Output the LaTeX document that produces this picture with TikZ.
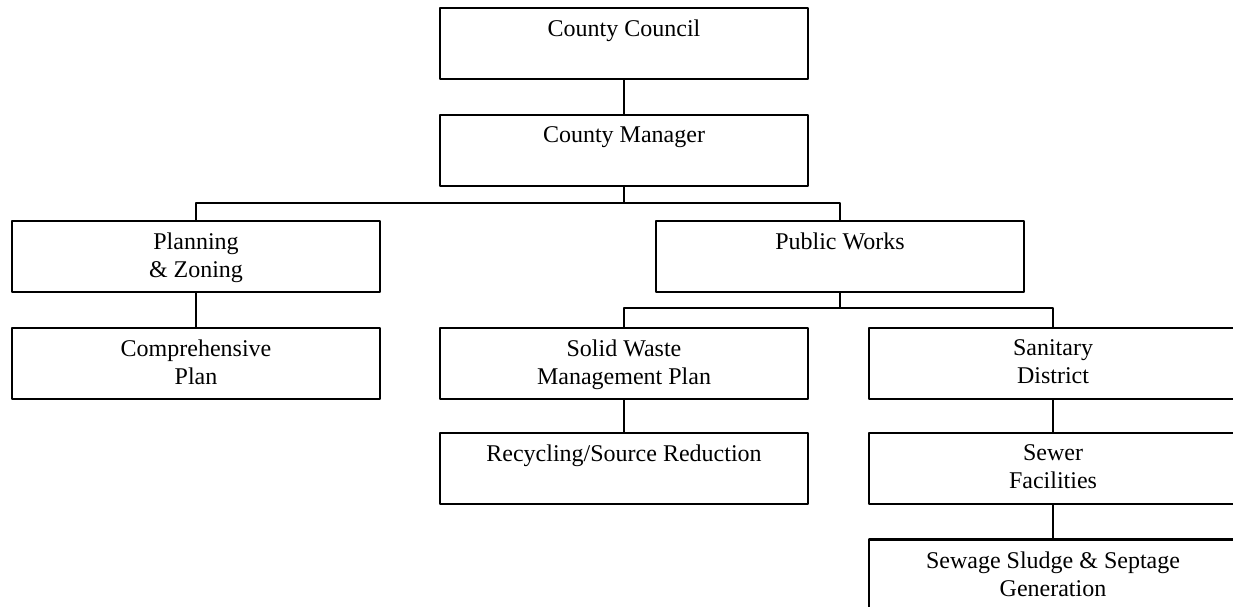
\documentclass[tikz,border=0pt]{standalone}
\usepackage{fontspec}
\setmainfont{Liberation Serif}
\usetikzlibrary{positioning}
\tikzset{
  every picture/.style={line width=1pt, line cap=round, line join=round},
  % Kästen
  box/.style={draw, line width=1.1pt, minimum width=184pt, minimum height=35.5pt, inner sep=0pt},
  % Beschriftung oben im Kasten
  txt/.style={anchor=north, inner sep=0pt, align=center, yshift=-6pt,
    font=\fontsize{12}{14}\selectfont},
  % Verbindungen
  link/.style={line width=0.9pt},
}
\begin{document}
\begin{tikzpicture}[x=0.5pt, y=-0.5pt]
  \useasboundingbox (0,0) rectangle (1233,606);
  % Kästen
  \node[box] (council) at (624,43.5) {};
  \node[box] (manager) at (624,150.5) {};
  \node[box] (planning) at (196,256.5) {};
  \node[box] (works) at (840,256.5) {};
  \node[box] (comp) at (196,363.5) {};
  \node[box] (solid) at (624,363.5) {};
  \node[box] (sanitary) at (1053,363.5) {};
  \node[box] (recycling) at (624,468.5) {};
  \node[box] (sewer) at (1053,468.5) {};
  \node[box] (sludge) at (1053,575) {};
  % Texte
  \node[txt] (council-t) at (council.north) {County Council};
  \node[txt] (manager-t) at (manager.north) {County Manager};
  \node[txt] (planning-t) at (planning.north) {Planning\\\& Zoning};
  \node[txt] (works-t) at (works.north) {Public Works};
  \node[txt] (comp-t) at (comp.north) {Comprehensive\\Plan};
  \node[txt] (solid-t) at (solid.north) {Solid Waste\\Management Plan};
  \node[txt] (sanitary-t) at (sanitary.north) {Sanitary\\District};
  \node[txt] (recycling-t) at (recycling.north) {Recycling/Source Reduction};
  \node[txt] (sewer-t) at (sewer.north) {Sewer\\Facilities};
  \node[txt] (sludge-t) at (sludge.north) {Sewage Sludge \& Septage\\Generation};
  % Verbindungen
  \coordinate (bus1) at (624,203);
  \coordinate (bus2) at (840,308);
  \draw[link] (council) -- (manager);
  \draw[link] (manager) -- (bus1);
  \draw[link] (planning.north) |- (bus1) -| (works.north);
  \draw[link] (works) -- (bus2);
  \draw[link] (solid.north) |- (bus2) -| (sanitary.north);
  \draw[link] (planning) -- (comp);
  \draw[link] (solid) -- (recycling);
  \draw[link] (sanitary) -- (sewer);
  \draw[link] (sewer) -- (sludge);
\end{tikzpicture}
\end{document}
